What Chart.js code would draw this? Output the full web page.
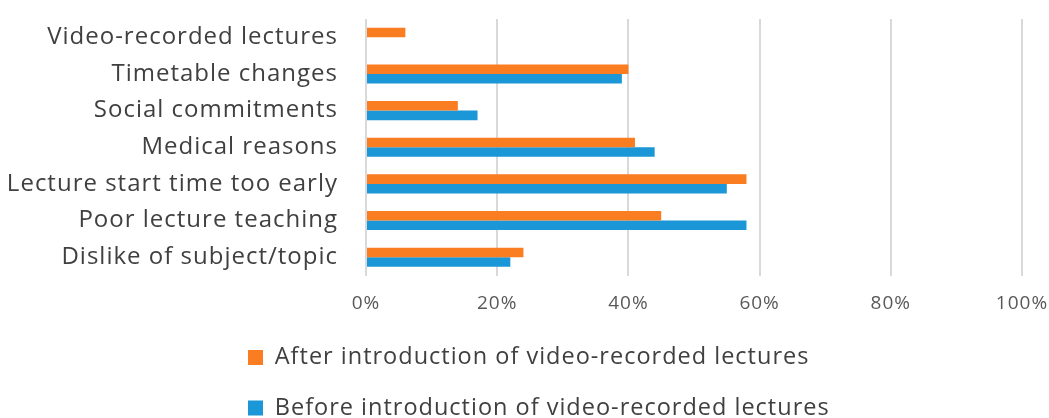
<!DOCTYPE html>
<html>
<head>
<meta charset="utf-8">
<script src="https://cdn.jsdelivr.net/npm/chart.js@4/dist/chart.umd.min.js"></script>
<style>
html,body{margin:0;padding:0;background:#fff;}
#wrap{width:1049px;height:418px;position:relative;}
</style>
</head>
<body>
<div id="wrap"><canvas id="c" width="1049" height="418"></canvas></div>
<script>
const categories = [
  "Video-recorded lectures",
  "Timetable changes",
  "Social commitments",
  "Medical reasons",
  "Lecture start time too early",
  "Poor lecture teaching",
  "Dislike of subject/topic"
];
const afterValues = [6, 40, 14, 41, 58, 45, 24];
const beforeValues = [null, 39, 17, 44, 55, 58, 22];
const seriesNames = ["After introduction of video-recorded lectures", "Before introduction of video-recorded lectures"];
const xTicks = [0, 20, 40, 60, 80, 100];

const FONT = "'Open Sans', sans-serif";
const LEG_SIZE = 23.5, LEG_PAD = 27;

const spacing = {
  id: 'spacing',
  beforeUpdate(chart) { chart.ctx.letterSpacing = '1px'; },
  beforeDraw(chart) { chart.ctx.letterSpacing = '1px'; },
  afterLayout(chart) {
    const lg = chart.legend;
    if (lg) {
      const h = lg.bottom - lg.top;
      lg.top = 357.5 - LEG_PAD - LEG_SIZE / 2;
      lg.bottom = lg.top + h;
      lg.left = 248 - LEG_PAD;
    }
    const x = chart.scales.x;
    if (x) { x.bottom = 340; }
  }
};

new Chart(document.getElementById('c'), {
  type: 'bar',
  data: {
    labels: categories,
    datasets: [
      { label: seriesNames[0], data: afterValues, backgroundColor: '#FA7D22', borderWidth: 0 },
      { label: seriesNames[1], data: beforeValues, backgroundColor: '#1B96D6', borderWidth: 0 }
    ]
  },
  plugins: [spacing],
  options: {
    indexAxis: 'y',
    responsive: false,
    animation: false,
    devicePixelRatio: 1,
    datasets: { bar: { categoryPercentage: 0.52, barPercentage: 1.0 } },
    layout: { padding: { top: 19, left: 0, right: 27, bottom: 0 } },
    plugins: {
      tooltip: { enabled: false },
      legend: {
        position: 'bottom',
        align: 'start',
        labels: {
          font: { family: FONT, size: LEG_SIZE },
          color: '#404040',
          boxWidth: 15,
          boxHeight: 15,
          padding: LEG_PAD
        }
      }
    },
    scales: {
      x: {
        min: 0, max: 100,
        afterBuildTicks: (s) => { s.ticks = xTicks.map(v => ({ value: v })); },
        afterFit: (s) => { s.height = 31.5; s.paddingLeft = 0; s.paddingRight = 0; },
        grid: { color: '#d9d9d9', lineWidth: 2, drawTicks: false },
        border: { display: false },
        ticks: {
          padding: 17,
          font: { family: FONT, size: 19 },
          color: '#595959',
          callback: (v) => v + '%'
        }
      },
      y: {
        afterFit: (s) => { s.width = 366; s.paddingTop = 0; s.paddingBottom = 0; },
        grid: { display: false, drawTicks: false },
        border: { display: false },
        ticks: {
          padding: 28,
          font: { family: FONT, size: 24 },
          color: '#404040'
        }
      }
    }
  }
});
</script>
</body>
</html>
